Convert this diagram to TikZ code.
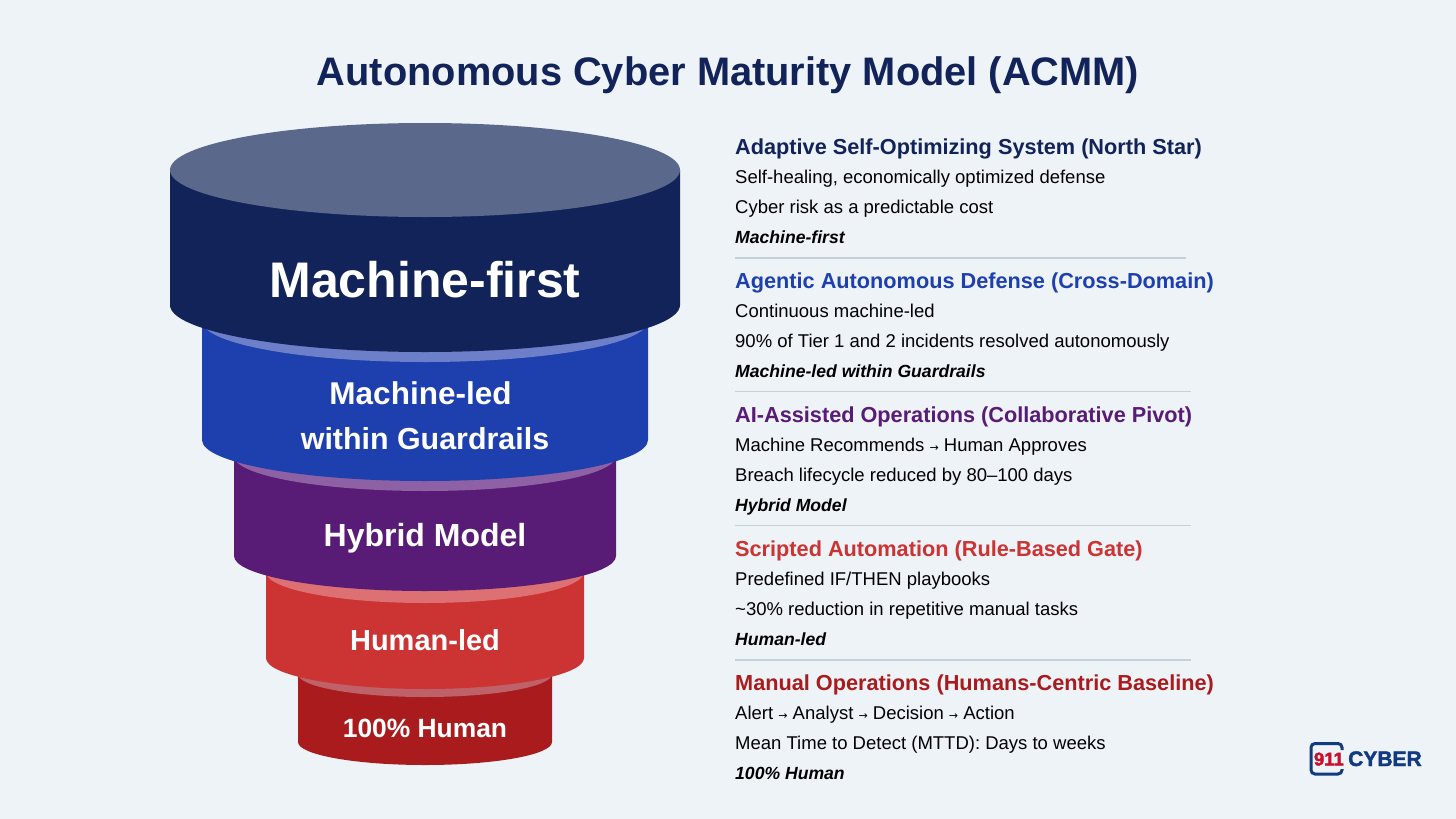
\documentclass[tikz,border=0pt]{standalone}
\usepackage{fontspec}
\setmainfont{Liberation Sans}
\newfontfamily\arrowfont{DejaVu Sans}
\newfontfamily\logofont[FakeBold=2]{Liberation Sans Bold}
\definecolor{bgc}{HTML}{EEF3F8}
\definecolor{navy}{HTML}{12235A}
\definecolor{navytop}{HTML}{5A688C}
\definecolor{blu}{HTML}{1E40AF}
\definecolor{blutop}{HTML}{6C7FC8}
\definecolor{pur}{HTML}{581C77}
\definecolor{purtop}{HTML}{8E60A4}
\definecolor{redm}{HTML}{CC3333}
\definecolor{redtop}{HTML}{DC7072}
\definecolor{redd}{HTML}{A91B1D}
\definecolor{reddtop}{HTML}{BF6168}
\definecolor{rulec}{HTML}{C5D2DA}
\definecolor{logoblue}{HTML}{123A80}
\definecolor{logored}{HTML}{C8102E}
\newcommand{\disc}[7]{% cx, half width, top-centre y, side-end y, ry, body colour, top colour
  \fill[#6] (#1-#2,#3) -- (#1-#2,#4) arc[start angle=180,end angle=0,x radius=#2,y radius=#5] -- (#1+#2,#3) -- cycle;
  \fill[#7] (#1,#3) ellipse[x radius=#2,y radius=#5];
}
\tikzset{
  head/.style={anchor=base west,inner sep=0pt,font=\fontsize{21.7}{26}\selectfont\bfseries},
  body/.style={anchor=base west,inner sep=0pt,font=\fontsize{18.5}{22}\selectfont,text=black},
  tag/.style={anchor=base west,inner sep=0pt,font=\fontsize{17.6}{22}\selectfont\bfseries\itshape,text=black},
  disctext/.style={text=white,inner sep=0pt,align=center,font=\bfseries},
  sep/.style={rulec,line width=1.6pt}
}
\begin{document}
\begin{tikzpicture}[x=1pt,y=-1pt]
\useasboundingbox (0,0) rectangle (1456,819);
\fill[bgc] (0,0) rectangle (1456,819);
\node[inner sep=0pt,text=navy,font=\fontsize{39.8}{46}\selectfont\bfseries] (title) at (728,75) {Autonomous Cyber Maturity Model (ACMM)};
% funnel, bottom to top
\disc{425}{127}{674}{742}{23}{redd}{reddtop}
\disc{425}{159}{572}{658}{31}{redm}{redtop}
\disc{425}{191}{456}{556}{35}{pur}{purtop}
\disc{425}{223}{321}{440}{41}{blu}{blutop}
\disc{425}{255}{170}{305}{47}{navy}{navytop}
\node[disctext,font=\fontsize{50}{56}\selectfont\bfseries] (d1) at (425,280) {Machine-first};
\node[disctext,font=\fontsize{31.5}{45}\selectfont\bfseries] (d2) at (425,416) {Machine-led\kern9pt\null\\{\fontsize{30.4}{45}\selectfont within Guardrails}};
\node[disctext,font=\fontsize{32}{36}\selectfont\bfseries] (d3) at (425,538) {Hybrid Model};
\node[disctext,font=\fontsize{29}{34}\selectfont\bfseries] (d4) at (425,640) {Human-led};
\node[disctext,font=\fontsize{26.4}{32}\selectfont\bfseries] (d5) at (425,728) {100\% Human};
% right column
\node[head,text=navy] (h1) at (735,154) {Adaptive Self-Optimizing System (North Star)};
\node[body] (b1a) at (735,183) {Self-healing, economically optimized defense};
\node[body] (b1b) at (735,213) {Cyber risk as a predictable cost};
\node[tag] (t1) at (735,243) {Machine-first};
\draw[sep] (735,258) -- (1186,258);
\node[head,text=blu] (h2) at (735,288) {Agentic Autonomous Defense (Cross-Domain)};
\node[body] (b2a) at (735,317) {Continuous machine-led};
\node[body] (b2b) at (735,347) {90\% of Tier 1 and 2 incidents resolved autonomously};
\node[tag] (t2) at (735,377) {Machine-led within Guardrails};
\draw[sep] (735,391.5) -- (1191,391.5);
\node[head,text=pur] (h3) at (735,422) {AI-Assisted Operations (Collaborative Pivot)};
\node[body] (b3a) at (735,451) {Machine Recommends {\arrowfont\fontsize{11}{12}\selectfont→} Human Approves};
\node[body] (b3b) at (735,481) {Breach lifecycle reduced by 80–100 days};
\node[tag] (t3) at (735,511) {Hybrid Model};
\draw[sep] (735,525.5) -- (1191,525.5);
\node[head,text=redm] (h4) at (735,556) {Scripted Automation (Rule-Based Gate)};
\node[body] (b4a) at (735,585) {Predefined IF/THEN playbooks};
\node[body] (b4b) at (735,615) {\textasciitilde30\% reduction in repetitive manual tasks};
\node[tag] (t4) at (735,645) {Human-led};
\draw[sep] (735,660) -- (1191,660);
\node[head,text=redd] (h5) at (735,690) {Manual Operations (Humans-Centric Baseline)};
\node[body] (b5a) at (735,719) {Alert {\arrowfont\fontsize{11}{12}\selectfont→} Analyst {\arrowfont\fontsize{11}{12}\selectfont→} Decision {\arrowfont\fontsize{11}{12}\selectfont→} Action};
\node[body] (b5b) at (735,749) {Mean Time to Detect (MTTD): Days to weeks};
\node[tag] (t5) at (735,779) {100\% Human};
% logo
\draw[logoblue,line width=3pt,rounded corners=4pt] (1342,750) -- (1342,743.5) -- (1311,743.5) -- (1311,774) -- (1342,774) -- (1342,769);
\node[anchor=base east,inner sep=0pt,text=logored,font=\fontsize{18.5}{20}\selectfont\logofont] (l1) at (1344,765.5) {911};
\node[anchor=base west,inner sep=0pt,text=logoblue,font=\fontsize{21}{22}\selectfont\logofont] (l2) at (1348,766) {CYBER};
\end{tikzpicture}
\end{document}
